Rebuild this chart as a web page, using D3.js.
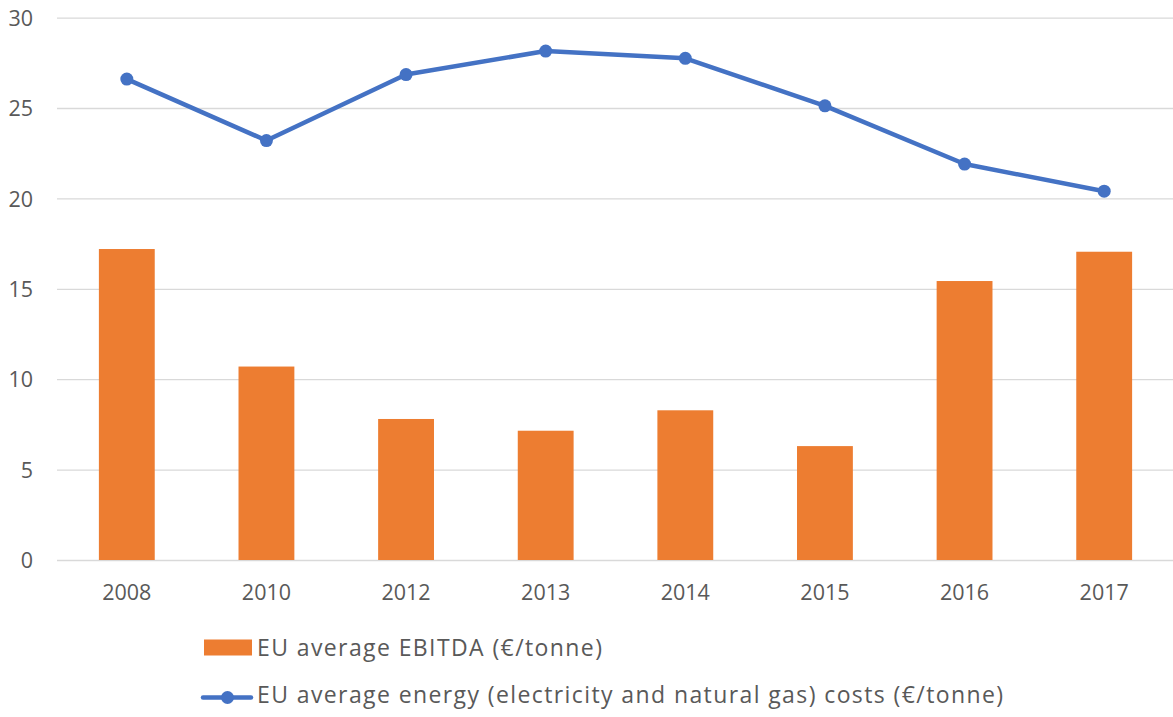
<!DOCTYPE html>
<html>
<head>
<meta charset="utf-8">
<script src="https://cdn.jsdelivr.net/npm/d3@7"></script>
<style>
  html, body { margin: 0; padding: 0; background: #fff; }
  svg { display: block; }
  svg text { font-family: "Open Sans", "Liberation Sans", sans-serif; }
</style>
</head>
<body>
<svg id="chart" width="1173" height="717"></svg>
<script>
// Chart data
const years = ["2008", "2010", "2012", "2013", "2014", "2015", "2016", "2017"];
const ebitda = [17.2, 10.7, 7.8, 7.15, 8.28, 6.3, 15.43, 17.05];
const energyCosts = [26.6, 23.2, 26.85, 28.15, 27.75, 25.12, 21.9, 20.4];
const yTicks = [0, 5, 10, 15, 20, 25, 30];
const seriesNames = [
  "EU average EBITDA (€/tonne)",
  "EU average energy (electricity and natural gas) costs (€/tonne)"
];

const orange = "#ED7D31";
const blue = "#4472C4";
const textColor = "#595959";
const fontStack = "'Open Sans', 'Liberation Sans', sans-serif";

const svg = d3.select("#chart");
const plot = { left: 57, right: 1174, top: 17.6, bottom: 560 };

const x = d3.scaleBand()
  .domain(years)
  .range([plot.left, plot.right])
  .paddingInner(0.6)
  .paddingOuter(0.3);

const y = d3.scaleLinear()
  .domain([0, 30])
  .range([plot.bottom, plot.top]);

// Horizontal gridlines and value labels
const yAxis = d3.axisLeft(y)
  .tickValues(yTicks)
  .tickSize(-(plot.right - plot.left))
  .tickPadding(24);

const gy = svg.append("g")
  .attr("transform", `translate(${plot.left},0)`)
  .call(yAxis)
  .attr("font-family", fontStack);
gy.select(".domain").remove();
gy.selectAll(".tick line").attr("stroke", "#d9d9d9").attr("stroke-width", 1.3);
gy.selectAll(".tick text")
  .attr("fill", textColor)
  .attr("dy", "0.36em")
  .style("font-size", "21.5px");

// Category labels
const xAxis = d3.axisBottom(x).tickSize(0).tickPadding(29);
const gx = svg.append("g")
  .attr("transform", `translate(0,${plot.bottom})`)
  .call(xAxis)
  .attr("font-family", fontStack);
gx.select(".domain").remove();
gx.selectAll(".tick text")
  .attr("fill", textColor)
  .attr("dy", "0.5em")
  .style("font-size", "21.5px");

// Bars
svg.append("g")
  .selectAll("rect")
  .data(ebitda)
  .join("rect")
  .attr("x", (d, i) => x(years[i]))
  .attr("y", d => y(d))
  .attr("width", x.bandwidth())
  .attr("height", d => y(0) - y(d))
  .attr("fill", orange);

// Line with markers
const cx = i => x(years[i]) + x.bandwidth() / 2;
const line = d3.line()
  .x((d, i) => cx(i))
  .y(d => y(d));

svg.append("path")
  .datum(energyCosts)
  .attr("d", line)
  .attr("fill", "none")
  .attr("stroke", blue)
  .attr("stroke-width", 4.5)
  .attr("stroke-linejoin", "round")
  .attr("stroke-linecap", "round");

svg.append("g")
  .selectAll("circle")
  .data(energyCosts)
  .join("circle")
  .attr("cx", (d, i) => cx(i))
  .attr("cy", d => y(d))
  .attr("r", 6.5)
  .attr("fill", blue);

// Legend
const legend = svg.append("g");
legend.append("rect")
  .attr("x", 204).attr("y", 639.5)
  .attr("width", 48).attr("height", 16)
  .attr("fill", orange);
legend.append("text")
  .attr("x", 257).attr("y", 655.7)
  .attr("fill", textColor)
  .style("font-size", "23px")
  .style("letter-spacing", "1.4px")
  .text(seriesNames[0]);

legend.append("line")
  .attr("x1", 203).attr("x2", 251)
  .attr("y1", 697.5).attr("y2", 697.5)
  .attr("stroke", blue).attr("stroke-width", 4.5)
  .attr("stroke-linecap", "round");
legend.append("circle")
  .attr("cx", 227.5).attr("cy", 697.5).attr("r", 6.5)
  .attr("fill", blue);
legend.append("text")
  .attr("x", 257).attr("y", 703.3)
  .attr("fill", textColor)
  .style("font-size", "23px")
  .style("letter-spacing", "1.4px")
  .text(seriesNames[1]);
</script>
</body>
</html>
